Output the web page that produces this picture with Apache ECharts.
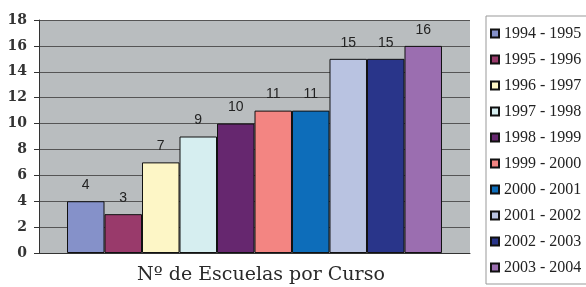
<!DOCTYPE html>
<html><head><meta charset="utf-8">
<script src="https://cdn.jsdelivr.net/npm/echarts@6/dist/echarts.min.js"></script>
<style>html,body{margin:0;padding:0;background:#fff}#c{width:586px;height:287px}</style>
</head><body><div id="c"></div>
<script>
const seriesNames = ['1994 - 1995','1995 - 1996','1996 - 1997','1997 - 1998','1998 - 1999','1999 - 2000','2000 - 2001','2001 - 2002','2002 - 2003','2003 - 2004'];
const values = [4, 3, 7, 9, 10, 11, 11, 15, 15, 16];
const colors = ['#8591c9','#993a6b','#fdf6c6','#d6eef0','#66276f','#f38582','#0d6dba','#b9c3e1','#29358a','#9b6eb0'];
const yTicks = {min: 0, max: 18, interval: 2};
const titleText = 'Nº de Escuelas por Curso';

const chart = echarts.init(document.getElementById('c'), null, {renderer: 'canvas'});
chart.setOption({
  animation: false,
  backgroundColor: '#fff',
  title: {
    text: titleText, left: 256, top: 261, textAlign: 'center',
    textStyle: {fontFamily: 'DejaVu Serif', fontSize: 19, fontWeight: 'normal', color: '#2a2a2a'}
  },
  grid: {left: 39, right: 116, top: 20, bottom: 34, show: true, backgroundColor: '#b9bdbf', borderWidth: 0},
  legend: {
    orient: 'vertical', left: 486, top: 16, icon: 'rect',
    itemWidth: 8, itemHeight: 8, itemGap: 9,
    padding: [9, 30, 8, 4],
    borderColor: '#999', borderWidth: 1,
    textStyle: {fontFamily: 'Liberation Serif', fontSize: 16, color: '#222', lineHeight: 17},
    data: seriesNames
  },
  xAxis: {
    type: 'category', data: [''],
    axisLine: {lineStyle: {color: '#333'}}, axisTick: {show: false}, axisLabel: {show: false}
  },
  yAxis: {
    type: 'value', min: yTicks.min, max: yTicks.max, interval: yTicks.interval,
    axisLine: {show: true, lineStyle: {color: '#333'}},
    axisTick: {show: true, length: 5, lineStyle: {color: '#333'}},
    splitLine: {lineStyle: {color: '#555', width: 1}},
    axisLabel: {fontFamily: 'DejaVu Serif', fontWeight: 'bold', fontSize: 14, color: '#333', margin: 12}
  },
  series: seriesNames.map((n, i) => ({
    name: n, type: 'bar', data: [values[i]],
    barGap: '0%', barCategoryGap: '13%',
    itemStyle: {color: colors[i], borderColor: '#111', borderWidth: 1},
    label: {show: true, position: 'top', distance: 9, fontFamily: 'Liberation Sans', fontSize: 14, color: '#222'}
  }))
});
</script></body></html>
